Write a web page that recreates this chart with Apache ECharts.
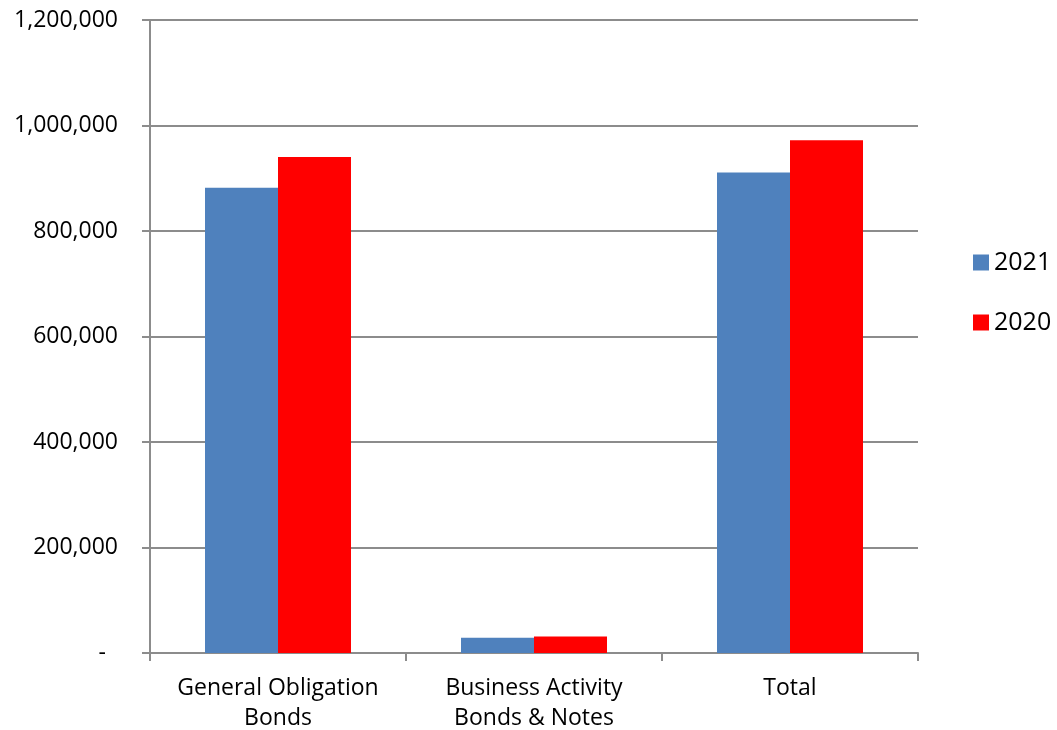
<!DOCTYPE html>
<html>
<head>
<meta charset="utf-8">
<script src="https://cdn.jsdelivr.net/npm/echarts@6/dist/echarts.min.js"></script>
<style>html,body{margin:0;padding:0;background:#fff;}#c{width:1057px;height:730px;}</style>
</head>
<body>
<div id="c"></div>
<script>
const categories = ['General Obligation\nBonds', 'Business Activity\nBonds & Notes', 'Total'];
const seriesNames = ['2021', '2020'];
const values2021 = [882000, 29000, 911000];
const values2020 = [940500, 31500, 972000];
const yTicks = [0, 200000, 400000, 600000, 800000, 1000000, 1200000];

const FONT = 'Open Sans';
const LINE = '#8c8c8c';
const chart = echarts.init(document.getElementById('c'), null, {renderer: 'canvas'});
chart.setOption({
  animation: false,
  textStyle: {fontFamily: FONT, color: '#000'},
  grid: {left: 150, right: 139, top: 20, bottom: 77, containLabel: false, outerBoundsMode: 'none'},
  legend: {
    orient: 'vertical', left: 973, top: 250, padding: 0,
    itemWidth: 16, itemHeight: 16, itemGap: 35,
    icon: 'rect',
    data: seriesNames,
    textStyle: {fontFamily: FONT, fontSize: 25, color: '#000', lineHeight: 22}
  },
  xAxis: {
    type: 'category', data: categories,
    axisLine: {lineStyle: {color: LINE, width: 2}},
    axisTick: {show: true, length: 8, lineStyle: {color: LINE, width: 2}},
    axisLabel: {fontFamily: FONT, fontSize: 23, color: '#000', margin: 20, lineHeight: 30, interval: 0, hideOverlap: false}
  },
  yAxis: {
    type: 'value', min: yTicks[0], max: yTicks[yTicks.length - 1], interval: 200000,
    axisLine: {show: true, lineStyle: {color: LINE, width: 2}},
    axisTick: {show: true, length: 8, lineStyle: {color: LINE, width: 2}},
    splitLine: {show: true, lineStyle: {color: LINE, width: 2}},
    axisLabel: {
      fontFamily: FONT, fontSize: 23, color: '#000', margin: 32,
      formatter: function (v) { return v === 0 ? '{d|-}' : v.toLocaleString('en-US'); },
      rich: {d: {fontFamily: FONT, fontSize: 23, color: '#000', padding: [0, 12, 0, 0]}}
    }
  },
  series: [
    {name: seriesNames[0], type: 'bar', data: values2021, barWidth: 73, barGap: '0%', itemStyle: {color: '#4F81BD'}},
    {name: seriesNames[1], type: 'bar', data: values2020, barWidth: 73, barGap: '0%', itemStyle: {color: '#FF0000'}}
  ]
});
</script>
</body>
</html>
